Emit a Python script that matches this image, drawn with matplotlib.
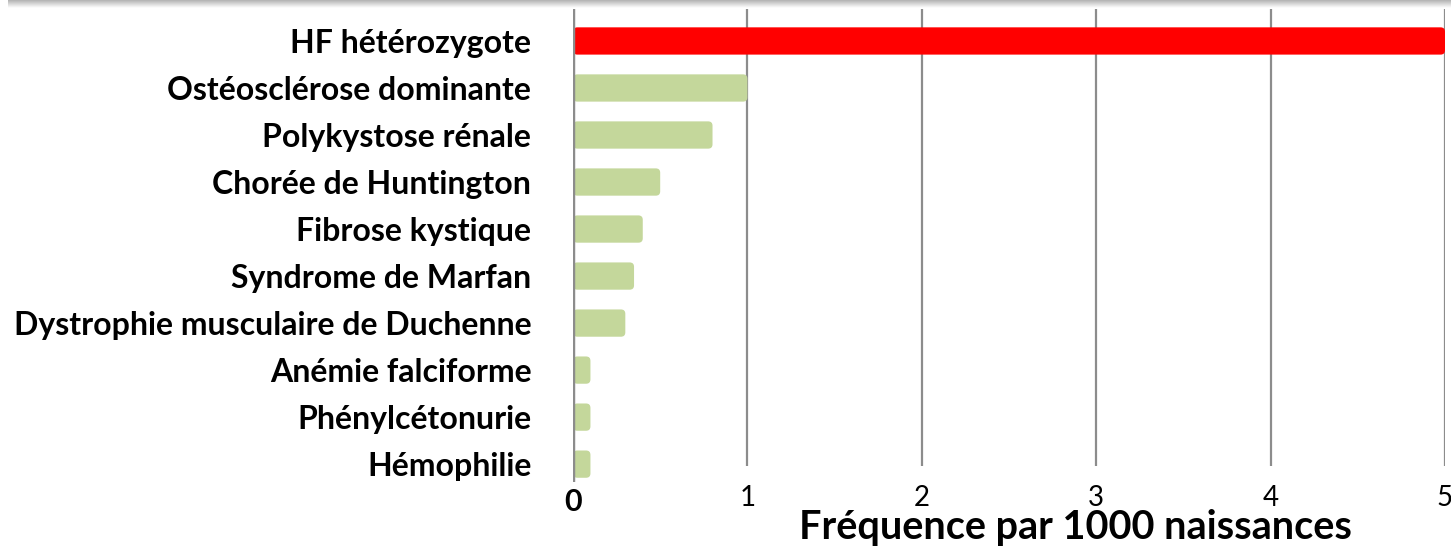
import numpy as np
import matplotlib.pyplot as plt
from matplotlib.patches import FancyBboxPatch

labels = ['HF hétérozygote', 'Ostéosclérose dominante', 'Polykystose rénale',
          'Chorée de Huntington', 'Fibrose kystique', 'Syndrome de Marfan',
          'Dystrophie musculaire de Duchenne', 'Anémie falciforme',
          'Phénylcétonurie', 'Hémophilie']
values = [5.0, 1.0, 0.8, 0.5, 0.4, 0.35, 0.3, 0.1, 0.1, 0.1]
colors = ['#FF0000'] + ['#C4D79B'] * 9
ticks = [0, 1, 2, 3, 4, 5]

plt.rcParams['font.family'] = ['Lato', 'DejaVu Sans']

W, H = 1451, 552
fig = plt.figure(figsize=(W / 100, H / 100), dpi=100)

# light shadow band along the top edge
sh = fig.add_axes([8 / W, 1 - 8 / H, 1 - 8 / W, 8 / H])
grad = np.linspace(0.7, 1.0, 30).reshape(-1, 1)
sh.imshow(grad, cmap='gray', vmin=0, vmax=1, aspect='auto', extent=[0, 1, 0, 1])
sh.axis('off')

x0, x1 = 573, 1445
ytop, ybot = 9, 482
ax = fig.add_axes([x0 / W, 1 - ybot / H, (x1 - x0) / W, (ybot - ytop) / H])
ax.set_xlim(0, 5)
ax.set_ylim(9.38, -0.68)

y = np.arange(len(labels))
bars = ax.barh(y, values, height=0.58, color=colors)
for b, c in zip(bars, colors):
    b.set_visible(False)
    p = FancyBboxPatch((b.get_x(), b.get_y()), b.get_width(), b.get_height(),
                       boxstyle='round,pad=0,rounding_size=0.025',
                       mutation_aspect=3.7, fc=c, ec='none', zorder=3)
    ax.add_patch(p)

ax.vlines(ticks[1:], -0.68, 9.04, color='#8C8C8C', lw=1.6, zorder=1)
ax.axvline(0, color='#8C8C8C', lw=3.2, zorder=4)

for s in ax.spines.values():
    s.set_visible(False)
ax.set_yticks(y)
ax.set_yticklabels(labels, fontsize=23, fontweight='bold')
ax.tick_params(axis='y', length=0, pad=30)
ax.set_xticks(ticks)
ax.set_xticklabels([''] + [str(t) for t in ticks[1:]], fontsize=20)
ax.tick_params(axis='x', length=0, pad=2)
ax.text(0, 9.5, '0', fontsize=22, fontweight='bold', ha='center', va='top')

fig.text(1075 / W, 1 - 527 / H, 'Fréquence par 1000 naissances',
         fontsize=28.5, fontweight='bold', ha='center', va='center')

fig.savefig('out.png', dpi=100)
